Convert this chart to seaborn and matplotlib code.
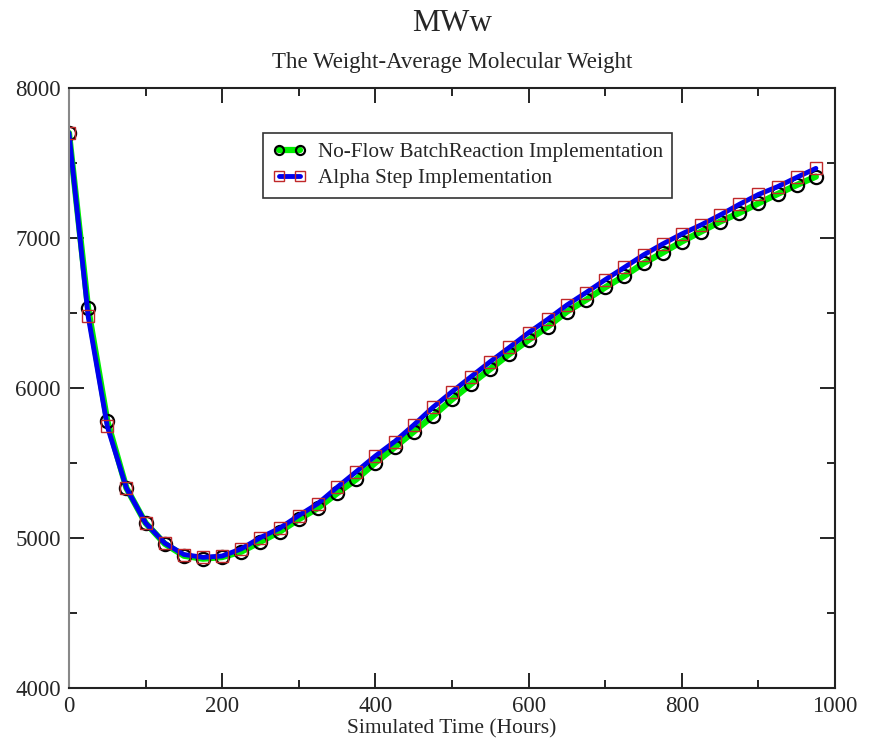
import matplotlib
matplotlib.use("Agg")
import matplotlib.pyplot as plt
import numpy as np
import pandas as pd
import seaborn as sns
from matplotlib.ticker import MultipleLocator

# simulated time (hours), one sample every 25 h
hours = list(range(0, 1000, 25))

# No-Flow BatchReaction Implementation (green line, black circles)
mw_batch = [7700, 6530, 5780, 5333, 5100, 4962, 4882, 4862, 4873, 4909,
            4975, 5042, 5125, 5200, 5298, 5391, 5502, 5604, 5709, 5813,
            5924, 6027, 6127, 6227, 6320, 6409, 6509, 6587, 6671, 6747,
            6831, 6902, 6976, 7042, 7109, 7167, 7231, 7293, 7353, 7409]

# Alpha Step Implementation (blue line, red squares)
mw_alpha = [7700, 6480, 5745, 5333, 5100, 4966, 4890, 4871, 4880, 4928,
            5003, 5065, 5150, 5230, 5338, 5442, 5547, 5642, 5753, 5871,
            5975, 6076, 6176, 6271, 6369, 6458, 6553, 6636, 6722, 6804,
            6887, 6960, 7027, 7087, 7153, 7224, 7290, 7342, 7404, 7464]

df = pd.DataFrame({'hours': hours, 'batch': mw_batch, 'alpha': mw_alpha})

sns.set_style('ticks')
plt.rcParams['font.family'] = ['Liberation Serif', 'DejaVu Serif']

fig = plt.figure(figsize=(8.73, 7.43), dpi=100)
ax = fig.add_axes([0.079, 0.074, 0.8775, 0.8076])

sns.lineplot(data=df, x='hours', y='batch', ax=ax, color='#00ee00', lw=4.5,
             marker='o', markersize=9.5, markerfacecolor='none',
             markeredgecolor='black', markeredgewidth=1.6,
             label='No-Flow BatchReaction Implementation')
sns.lineplot(data=df, x='hours', y='alpha', ax=ax, color='#0000ee', lw=3.5,
             marker='s', markersize=8.5, markerfacecolor='none',
             markeredgecolor='#c0282a', markeredgewidth=1.0,
             label='Alpha Step Implementation')

ax.set_xlim(0, 1000)
ax.set_ylim(4000, 8000)
ax.xaxis.set_major_locator(MultipleLocator(200))
ax.xaxis.set_minor_locator(MultipleLocator(100))
ax.yaxis.set_major_locator(MultipleLocator(1000))
ax.yaxis.set_minor_locator(MultipleLocator(500))
ax.tick_params(which='both', direction='in', top=True, right=True,
               color='black', width=1.2, labelsize=16.5)
ax.tick_params(which='major', length=11, pad=6)
ax.tick_params(which='minor', length=5.5)

for side in ['top', 'right', 'bottom']:
    ax.spines[side].set_color('#222222')
    ax.spines[side].set_linewidth(1.5)
ax.spines['left'].set_color('#888888')
ax.spines['left'].set_linewidth(1.5)

ax.set_xlabel('Simulated Time (Hours)', fontsize=15.5, labelpad=1)
ax.set_ylabel('')

fig.text(0.5178, 0.969, 'MWw', ha='center', va='center', fontsize=22.5)
fig.text(0.5178, 0.916, 'The Weight-Average Molecular Weight', ha='center',
         va='center', fontsize=16.5)

leg = ax.legend(loc='upper left', bbox_to_anchor=(0.253, 0.925), fontsize=15.2,
                frameon=True, fancybox=False, shadow=False, handlelength=1.6,
                handletextpad=0.55, borderpad=0.45, labelspacing=0.3,
                borderaxespad=0, numpoints=2)
leg.get_frame().set_edgecolor('#333333')
leg.get_frame().set_linewidth(1.2)
leg.get_frame().set_alpha(1)
# legend symbols are smaller than the plotted ones
for h in leg.legend_handles:
    h.set_markersize(6.5)

fig.savefig('out.png', dpi=100, facecolor='white')
